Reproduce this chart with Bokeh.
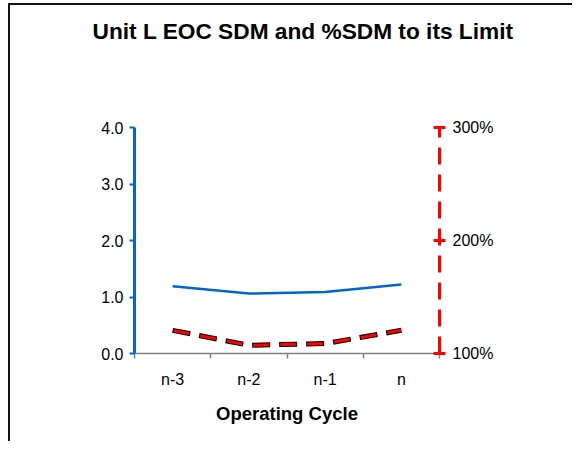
from bokeh.plotting import figure
from bokeh.models import Range1d, LinearAxis, FixedTicker, Title, NumeralTickFormatter, PrintfTickFormatter
from bokeh.embed import file_html
from bokeh.resources import INLINE

# ---- data ----
categories = ["n-3", "n-2", "n-1", "n"]
sdm = [1.19, 1.06, 1.09, 1.22]            # EOC SDM (left axis)
pct_sdm = [120.5, 107.3, 108.8, 120.5]    # %SDM to its limit (right axis, %)
left_ticks = [0, 1, 2, 3, 4]
right_ticks = [100, 200, 300]
title_text = "Unit L EOC SDM and %SDM to its Limit"
x_title = "Operating Cycle"

FONT = "Liberation Sans"
BLUE = "#0066CC"
RED = "#FF0000"

n = len(categories)
xs = [i + 0.5 for i in range(n)]

p = figure(width=572, height=441, output_backend="svg", toolbar_location=None,
           x_range=Range1d(0, n), y_range=Range1d(left_ticks[0], left_ticks[-1]),
           x_axis_type=None, y_axis_type=None,
           min_border_left=134, min_border_right=133,
           min_border_top=127, min_border_bottom=88)
p.extra_y_ranges = {"pct": Range1d(right_ticks[0], right_ticks[-1])}
p.outline_line_color = None
p.grid.visible = False
p.background_fill_color = None
p.border_fill_color = None
# chart-area frame (left and top edges visible, as in the cropped original)
p.styles = {"background": "linear-gradient(#111,#111) 8px 3px / 2px 100% no-repeat, "
                          "linear-gradient(#111,#111) 8px 3px / 100% 2px no-repeat, #ffffff"}

# title (outermost) and a blank spacer between it and the plot area
p.title = Title(text=title_text, align="left", offset=-42, standoff=10,
                text_font=FONT, text_font_size="22.7px", text_font_style="bold", text_color="black")
spacer = Title(text=" ", standoff=76, text_font_size="1px")
p.add_layout(spacer, "above")

# left axis
ya = LinearAxis(ticker=FixedTicker(ticks=left_ticks), formatter=NumeralTickFormatter(format="0.0"))
ya.axis_line_color = BLUE
ya.axis_line_width = 3
ya.major_tick_line_color = BLUE
ya.major_tick_line_width = 2
ya.major_tick_out = 5
ya.major_tick_in = 0
ya.minor_tick_line_color = None
ya.major_label_standoff = 6
ya.major_label_text_font = FONT
ya.major_label_text_font_size = "16px"
ya.major_label_text_color = "black"
p.add_layout(ya, "left")

# right axis
ra = LinearAxis(y_range_name="pct", ticker=FixedTicker(ticks=right_ticks),
                formatter=PrintfTickFormatter(format="%d%%"))
ra.axis_line_color = RED
ra.axis_line_width = 3
ra.axis_line_dash = "17 10"
ra.major_tick_line_color = RED
ra.major_tick_line_width = 3
ra.major_tick_out = 6
ra.major_tick_in = 6
ra.minor_tick_line_color = None
ra.major_label_standoff = 7
ra.major_label_text_font = FONT
ra.major_label_text_font_size = "16px"
ra.major_label_text_color = "black"
p.add_layout(ra, "right")

# x axis
xa = LinearAxis(ticker=FixedTicker(ticks=xs, minor_ticks=list(range(n + 1))),
                major_label_overrides={x: c for x, c in zip(xs, categories)})
xa.axis_line_color = "#808080"
xa.axis_line_width = 1.5
xa.major_tick_line_color = None
xa.minor_tick_line_color = "#808080"
xa.minor_tick_line_width = 1.5
xa.minor_tick_out = 5
xa.minor_tick_in = 0
xa.major_label_standoff = 11
xa.major_label_text_font = FONT
xa.major_label_text_font_size = "16px"
xa.major_label_text_color = "black"
xa.axis_label = x_title
xa.axis_label_text_font = FONT
xa.axis_label_text_font_size = "18.5px"
xa.axis_label_text_font_style = "bold"
xa.axis_label_text_color = "black"
xa.axis_label_standoff = 12
p.add_layout(xa, "below")

# series
p.line(xs, sdm, line_color=BLUE, line_width=2.5)
p.line(xs, pct_sdm, y_range_name="pct", line_color="black", line_width=5, line_dash="18 9")
p.line(xs, pct_sdm, y_range_name="pct", line_color=RED, line_width=3, line_dash="16 11", line_dash_offset=-1)

open("out.html", "w").write(file_html(p, INLINE))
